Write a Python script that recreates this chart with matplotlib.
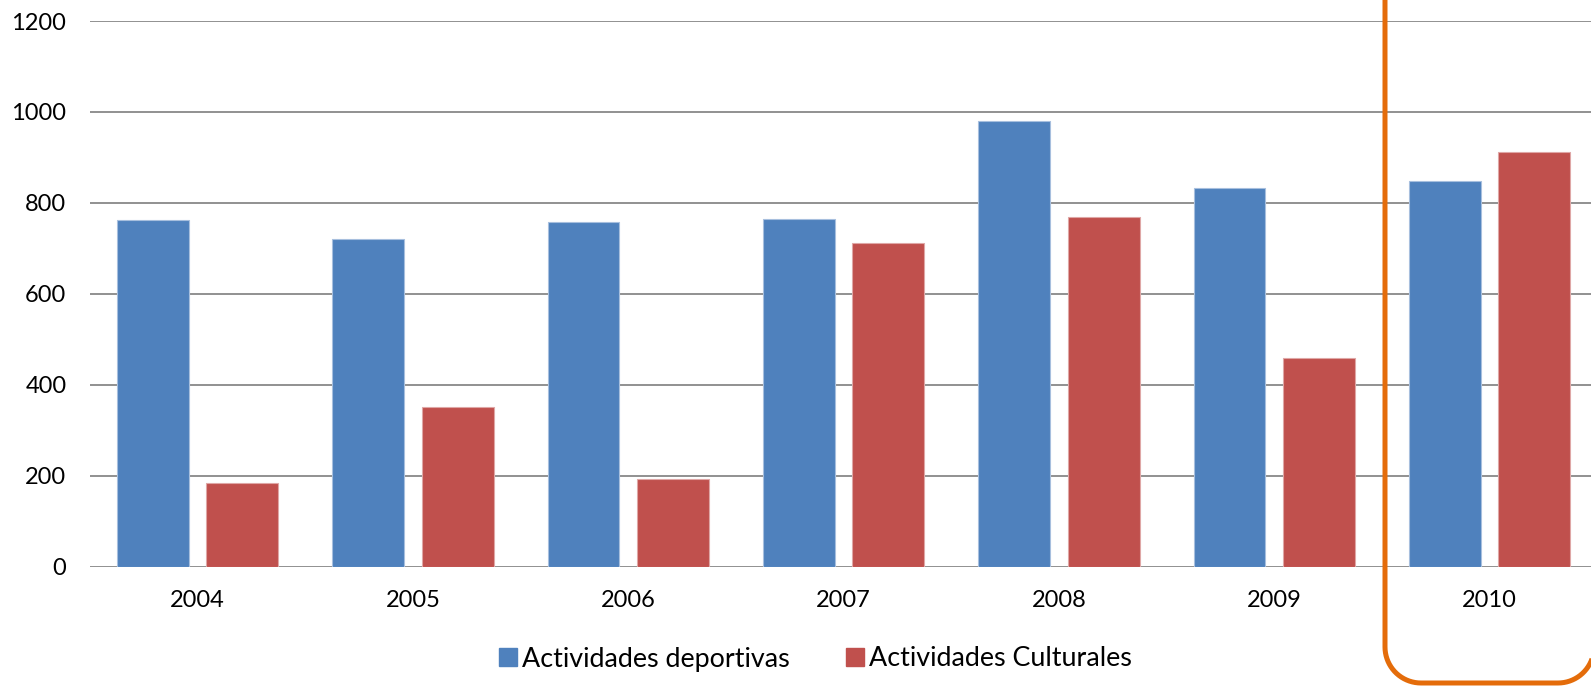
import matplotlib
matplotlib.use("Agg")
import matplotlib.pyplot as plt
from matplotlib.patches import Patch, PathPatch
from matplotlib.path import Path
import numpy as np

years = ["2004", "2005", "2006", "2007", "2008", "2009", "2010"]
deportivas = [763, 720, 758, 764, 980, 832, 848]
culturales = [185, 352, 193, 711, 770, 460, 911]
series_names = ["Actividades deportivas", "Actividades Culturales"]
yticks = [0, 200, 400, 600, 800, 1000, 1200]

BLUE = "#4F81BD"
RED = "#C0504D"
GRID = "#888888"
ORANGE = "#E46C0A"

plt.rcParams['font.family'] = ['Lato', 'DejaVu Sans']

W, H = 1591, 686
fig = plt.figure(figsize=(W / 100, H / 100), dpi=100)
ax = fig.add_axes([90 / W, (H - 566.7) / H, (W - 90) / W, (566.7 - 21) / H])

x = np.arange(len(years))
bw = 0.334
off = 0.208
ax.bar(x - off, deportivas, width=bw, color=BLUE, edgecolor="#A7BFDE", linewidth=0.8, zorder=3)
ax.bar(x + off, culturales, width=bw, color=RED, edgecolor="#DFA7A6", linewidth=0.8, zorder=3)

ax.set_xlim(-0.5, -0.5 + (W - 90) / 215.33)
ax.set_ylim(0, 1200)
ax.set_yticks(yticks)
ax.set_yticklabels([str(v) for v in yticks])
ax.set_xticks(x)
ax.set_xticklabels(years)
ax.yaxis.grid(True, color=GRID, linewidth=1.3, zorder=0)
ax.set_axisbelow(True)
for s in ax.spines.values():
    s.set_visible(False)
ax.tick_params(axis="y", length=0, pad=17, labelsize=17, labelcolor="black")
ax.tick_params(axis="x", length=0, pad=17, labelsize=17, labelcolor="black")

handles = [Patch(facecolor=BLUE, edgecolor=BLUE), Patch(facecolor=RED, edgecolor=RED)]
fig.legend(handles, series_names, loc="center", bbox_to_anchor=(815.5 / W, 1 - 659 / H),
           ncol=2, frameon=False, fontsize=19.4, handlelength=0.67, handleheight=0.67,
           handletextpad=0.19, columnspacing=2.1)

# rounded highlight frame (display pixel coordinates, y from bottom)
xl, xr, yb, yt, r = 1385.0, 1594.0, 3.0, 760.0, 36.0
t1 = np.linspace(np.pi, 1.5 * np.pi, 20)
t2 = np.linspace(1.5 * np.pi, 2 * np.pi, 20)
pts = [(xl, yt), (xl, yb + r)]
pts += [(xl + r + r * np.cos(t), yb + r + r * np.sin(t)) for t in t1]
pts += [(xr - r + r * np.cos(t), yb + r + r * np.sin(t)) for t in t2]
pts += [(xr, yt)]
frame = PathPatch(Path(pts), transform=None, fill=False, edgecolor=ORANGE,
                  linewidth=3.6, clip_on=False, zorder=10)
fig.patches.append(frame)

fig.savefig("out.png", dpi=100)
